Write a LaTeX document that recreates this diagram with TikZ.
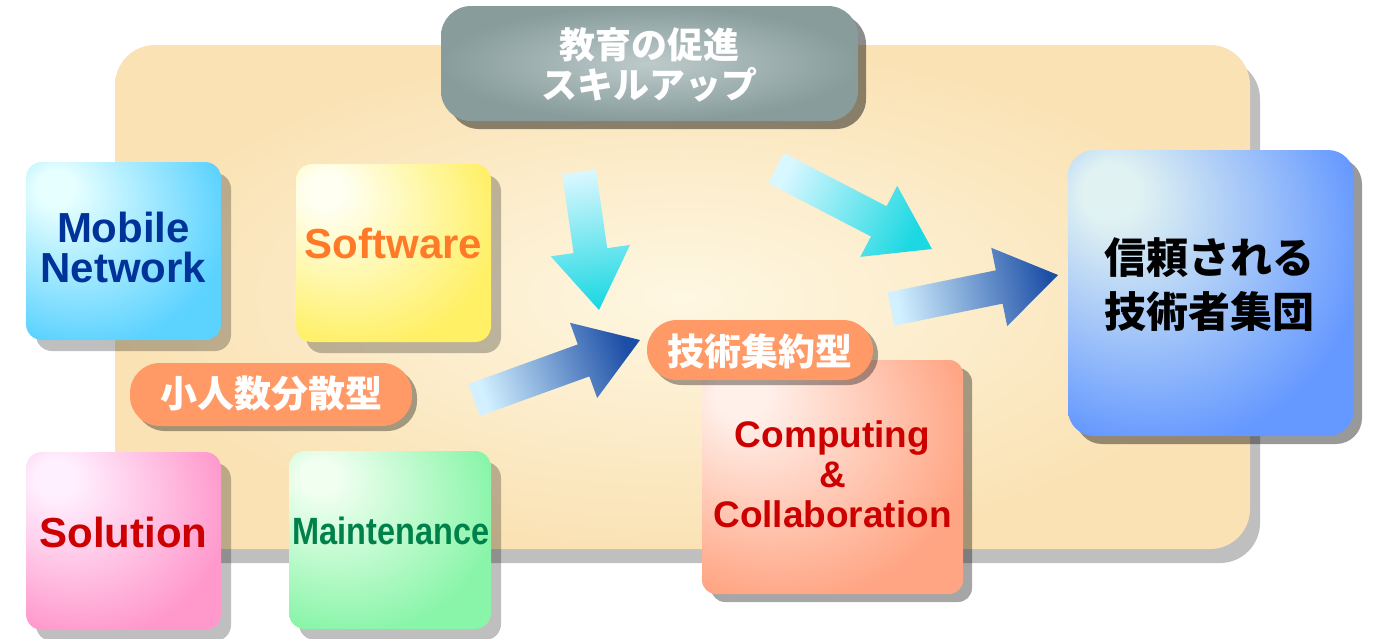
\documentclass[tikz,border=0pt]{standalone}
\usepackage{fontspec}
\setmainfont{Liberation Sans}
\newfontfamily\jp{Noto Sans CJK JP}
\usetikzlibrary{calc,shadows}

\definecolor{bgout}{HTML}{FAE2B4}
\definecolor{bgin}{HTML}{FEF7E2}
\definecolor{grout}{HTML}{889C9C}
\definecolor{grin}{HTML}{BDCACA}
\definecolor{mobL}{HTML}{E6FFFF}
\definecolor{mobD}{HTML}{5CD2FF}
\definecolor{sofL}{HTML}{FFFFF2}
\definecolor{sofD}{HTML}{FFF066}
\definecolor{solL}{HTML}{FFF0FF}
\definecolor{solD}{HTML}{FF99CC}
\definecolor{maiL}{HTML}{F0FFF0}
\definecolor{maiD}{HTML}{88F5A8}
\definecolor{ccL}{HTML}{FFF0EA}
\definecolor{ccD}{HTML}{FFA584}
\definecolor{trL}{HTML}{E0F2F2}
\definecolor{trD}{HTML}{6699FF}
\definecolor{pillc}{HTML}{FF9966}
\definecolor{cyL}{HTML}{D8F7FF}
\definecolor{cyD}{HTML}{1CD8E2}
\definecolor{blL}{HTML}{D2F0FF}
\definecolor{blD}{HTML}{1C4EA6}
\definecolor{mobT}{HTML}{003399}
\definecolor{sofT}{HTML}{FF7A28}
\definecolor{solT}{HTML}{CC0000}
\definecolor{maiT}{HTML}{00804A}
\colorlet{lc}{white}
\colorlet{dc}{black}

\pgfdeclareradialshading[lc,dc]{cornershade}{\pgfpoint{-19bp}{19bp}}{color(0bp)=(lc); color(5bp)=(lc); color(36bp)=(dc); color(70bp)=(dc)}

\newcommand\blockarrow[3]{%
  \coordinate (#1b) at ($(#2)!60pt!(#1)$);
  \path[#3] ($(#1)!17pt!90:(#2)$) -- ($(#1b)!17pt!90:(#2)$) -- ($(#1b)!40pt!90:(#2)$)
    -- (#2) -- ($(#1b)!40pt!-90:(#2)$) -- ($(#1b)!17pt!-90:(#2)$) -- ($(#1)!17pt!-90:(#2)$) -- cycle;
}

\tikzset{
  box/.style={rounded corners=16pt, minimum width=195pt, minimum height=178pt, inner sep=0pt},
  shd/.style={drop shadow={shadow xshift=10pt, shadow yshift=-11pt, fill=black, opacity=0.25}},
  cshade/.style 2 args={/utils/exec={\colorlet{lc}{#1}\colorlet{dc}{#2}}, shading=cornershade},
  lat/.style={font=\bfseries\fontsize{42}{40}\selectfont, align=center, inner sep=0pt},
  jpw/.style={text=white, font=\jp\bfseries\fontsize{37}{40}\selectfont, align=center, inner sep=0pt},
  pill/.style={fill=pillc, rounded corners=30pt, inner sep=0pt,
    drop shadow={shadow xshift=5pt, shadow yshift=-5pt, fill=black, opacity=0.35}},
}

\begin{document}
\begin{tikzpicture}[x=1pt,y=-1pt]
\useasboundingbox (0,0) rectangle (1376,638);

% background panel
\fill[black, opacity=0.25, rounded corners=40pt] (125,59) rectangle (1260,563);
\shade[inner color=bgin, outer color=bgout, rounded corners=40pt] (115,45) rectangle (1250,549);

% top grey box
\node[minimum width=417pt, minimum height=115pt, rounded corners=30pt, inner color=grin, outer color=grout,
  drop shadow={shadow xshift=8pt, shadow yshift=-8pt, fill=black, opacity=0.45}] (edu) at (649.5,63.5) {};
\node[jpw, font=\jp\bfseries\fontsize{36}{40}\selectfont] (edut) at (649.5,65) {教育の促進\\スキルアップ};

% four boxes
\node[box, shd, cshade={mobL}{mobD}] (mob) at (123.5,251) {};
\node[lat, text=mobT] (mobt) at (123.5,247) {Mobile\\Network};

\node[box, shd, cshade={sofL}{sofD}] (sof) at (393.5,253) {};
\node[lat, text=sofT] (soft) at (393.5,243) {Software};

\node[box, shd, cshade={solL}{solD}] (sol) at (123.5,541) {};
\node[lat, text=solT] (solt) at (123.5,532) {Solution};

\node[box, shd, cshade={maiL}{maiD}, minimum width=202pt] (mai) at (390,540) {};
\node[lat, text=maiT, font=\bfseries\fontsize{38}{40}\selectfont] (mait) at (391,531) {\scalebox{0.855}[1]{Maintenance}};

% trust box
\node[rounded corners=26pt, minimum width=286pt, minimum height=286pt, inner sep=0pt, cshade={trL}{trD},
  drop shadow={shadow xshift=8pt, shadow yshift=-8pt, fill=black, opacity=0.4}] (trust) at (1211,293) {};
\node[text=black, font=\jp\bfseries\fontsize{42}{54}\selectfont, align=center, inner sep=0pt] (trustt) at (1209,285) {信頼される\\技術者集団};

% arrows
\coordinate (t1) at (579,172); \coordinate (p1) at (599,310);
\coordinate (t2) at (776,168); \coordinate (p2) at (932,249);
\coordinate (t3) at (891,309); \coordinate (p3) at (1058,275);
\coordinate (t4) at (474,400); \coordinate (p4) at (640,340);
\blockarrow{t1}{p1}{top color=cyD, bottom color=cyL, shading angle=-171.8}
\blockarrow{t2}{p2}{top color=cyD, bottom color=cyL, shading angle=-117.4}
\blockarrow{t3}{p3}{top color=blD, bottom color=blL, shading angle=-78.5}
\blockarrow{t4}{p4}{top color=blD, bottom color=blL, shading angle=-70.1}

% computing & collaboration box
\node[rounded corners=14pt, minimum width=261pt, minimum height=234pt, inner sep=0pt, cshade={ccL}{ccD},
  drop shadow={shadow xshift=9pt, shadow yshift=-8pt, fill=black, opacity=0.35}] (cc) at (832.5,477) {};
\node[lat, text=solT, font=\bfseries\fontsize{37}{40}\selectfont] (cct) at (832.5,474) {Computing\\\&\\Collaboration};

% pills
\node[pill, minimum width=282pt, minimum height=63pt] (small) at (271,394.5) {};
\node[jpw] (smallt) at (271,394) {小人数分散型};
\node[pill, minimum width=226pt, minimum height=60pt] (intense) at (760,350) {};
\node[jpw] (intenset) at (760,351) {技術集約型};
\end{tikzpicture}
\end{document}
